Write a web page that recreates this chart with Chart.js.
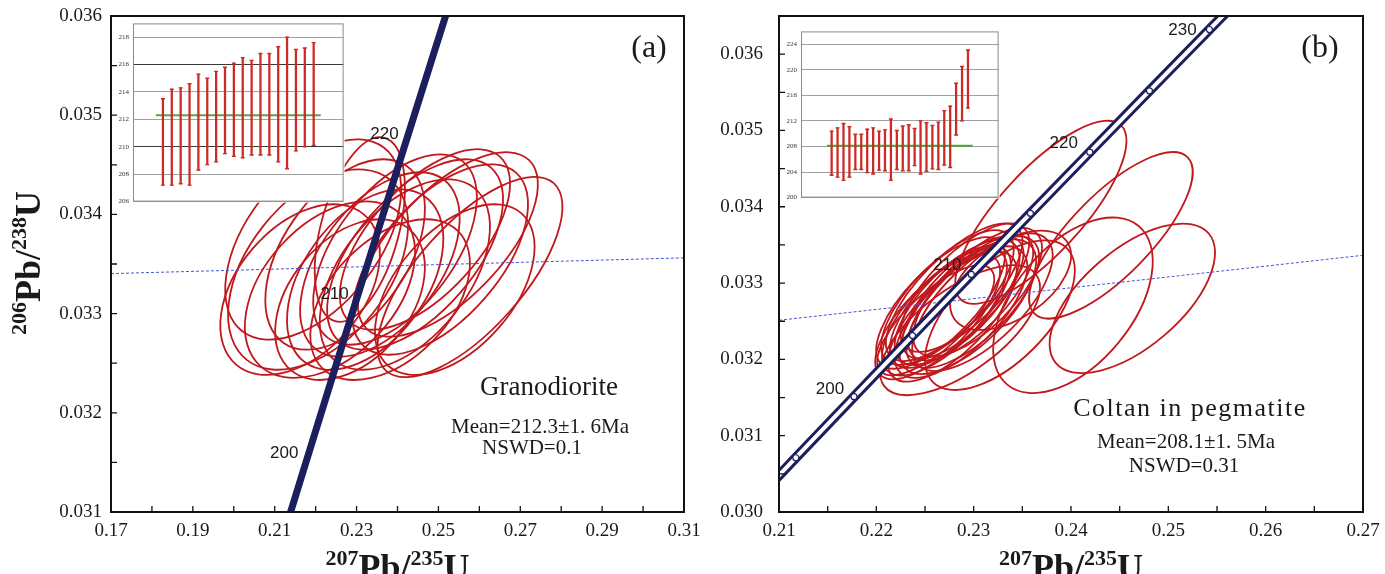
<!DOCTYPE html>
<html>
<head>
<meta charset="utf-8">
<title>U-Pb concordia diagrams</title>
<script src="https://cdn.jsdelivr.net/npm/chart.js@4.4.1/dist/chart.umd.min.js"></script>
<style>
  html, body { margin: 0; padding: 0; background: #fff; }
  body { position: relative; width: 1385px; height: 574px; overflow: hidden; }
  .panel { position: absolute; }
</style>
</head>
<body>
<div class="panel" style="left:0;top:0;width:720px;height:574px"><canvas id="concA"></canvas></div>
<div class="panel" style="left:692px;top:0;width:693px;height:574px"><canvas id="concB"></canvas></div>
<div class="panel" style="left:113px;top:18px;width:236px;height:189px"><canvas id="insetA"></canvas></div>
<div class="panel" style="left:782px;top:26px;width:222px;height:177px"><canvas id="insetB"></canvas></div>
<script>
// concordia reference points (age in Ma)
const concordiaAge = [190, 195, 200, 205, 210, 215, 220, 225, 230, 235];
const concordiaX = [0.205774, 0.211726, 0.217708, 0.223718, 0.229759, 0.235830, 0.241930, 0.248061, 0.254222, 0.260413];
const concordiaY = [0.029912, 0.030711, 0.031511, 0.032312, 0.033113, 0.033914, 0.034716, 0.035519, 0.036323, 0.037127];

// thin blue dashed lines
const granoDashX = [0.17, 0.31];
const granoDashY = [0.033403, 0.033562];
const coltanDashX = [0.21, 0.27];
const coltanDashY = [0.032513, 0.033364];

// error ellipses: [207Pb/235U, 206Pb/238U, half width x, half height y, rho]
const granoEllipses = [
  [0.2194, 0.033747, 0.0215, 0.00101, 0.50],
  [0.2206, 0.033444, 0.0220, 0.00101, 0.45],
  [0.2235, 0.033242, 0.0208, 0.00089, 0.42],
  [0.2272, 0.033596, 0.0195, 0.00096, 0.48],
  [0.2308, 0.033848, 0.0110, 0.00093, 0.45],
  [0.2321, 0.033343, 0.0191, 0.00091, 0.45],
  [0.2357, 0.033495, 0.0195, 0.00093, 0.50],
  [0.2394, 0.033646, 0.0200, 0.00096, 0.55],
  [0.2418, 0.033394, 0.0208, 0.00096, 0.50],
  [0.2443, 0.033596, 0.0215, 0.00096, 0.58],
  [0.2467, 0.033747, 0.0208, 0.00091, 0.62],
  [0.2504, 0.033545, 0.0215, 0.00096, 0.58],
  [0.2523, 0.033697, 0.0220, 0.00093, 0.65],
  [0.2577, 0.033369, 0.0226, 0.00101, 0.70],
  [0.2540, 0.033242, 0.0195, 0.00086, 0.50],
  [0.2284, 0.033141, 0.0183, 0.00081, 0.40],
  [0.2162, 0.033242, 0.0195, 0.00086, 0.42],
  [0.2382, 0.033141, 0.0195, 0.00081, 0.45]
];
const coltanEllipses = [
  [0.2266, 0.032740, 0.0066, 0.00086, 0.72],
  [0.2270, 0.032620, 0.0064, 0.00083, 0.70],
  [0.2273, 0.032810, 0.0068, 0.00088, 0.72],
  [0.2276, 0.032690, 0.0062, 0.00080, 0.69],
  [0.2278, 0.032560, 0.0066, 0.00085, 0.71],
  [0.2280, 0.032880, 0.0070, 0.00090, 0.74],
  [0.2283, 0.032750, 0.0064, 0.00082, 0.70],
  [0.2287, 0.032620, 0.0068, 0.00086, 0.69],
  [0.2289, 0.032810, 0.0062, 0.00080, 0.72],
  [0.2291, 0.032940, 0.0066, 0.00084, 0.71],
  [0.2294, 0.032690, 0.0070, 0.00088, 0.68],
  [0.2297, 0.032810, 0.0064, 0.00082, 0.72],
  [0.2299, 0.032750, 0.0068, 0.00086, 0.70],
  [0.2304, 0.032880, 0.0066, 0.00084, 0.69],
  [0.2309, 0.032750, 0.0072, 0.00090, 0.68],
  [0.2263, 0.032560, 0.0064, 0.00082, 0.72],
  [0.2369, 0.033927, 0.0088, 0.00120, 0.78],
  [0.2441, 0.033626, 0.0084, 0.00109, 0.76],
  [0.2463, 0.032800, 0.0085, 0.00098, 0.61],
  [0.2402, 0.032709, 0.0082, 0.00115, 0.50],
  [0.2327, 0.032579, 0.0077, 0.00098, 0.60],
  [0.2338, 0.033037, 0.0062, 0.00065, 0.50],
  [0.2286, 0.032382, 0.0082, 0.00085, 0.66],
  [0.2261, 0.032513, 0.0060, 0.00072, 0.75]
];

// inset weighted-mean plots (Ma)
const granoAgeLow = [207.2, 207.2, 207.3, 207.2, 208.3, 208.7, 208.9, 209.5, 209.3, 209.2, 209.4, 209.4, 209.4, 208.9, 208.4, 209.7, 210.0, 210.1];
const granoAgeHigh = [213.5, 214.2, 214.3, 214.6, 215.3, 215.0, 215.5, 215.8, 216.1, 216.5, 216.3, 216.8, 216.8, 217.3, 218.0, 217.1, 217.2, 217.6];
const granoMean = 212.3;
const coltanAgeLow = [203.5, 203.2, 202.7, 203.2, 204.4, 204.4, 203.9, 203.7, 204.3, 204.2, 202.7, 204.4, 204.2, 204.2, 205.0, 203.7, 204.1, 204.5, 204.4, 205.1, 204.7, 209.8, 212.0, 214.0];
const coltanAgeHigh = [210.4, 210.9, 211.6, 211.1, 209.9, 209.9, 210.7, 210.9, 210.4, 210.6, 212.3, 210.5, 211.2, 211.4, 210.8, 212.0, 211.7, 211.3, 211.8, 213.6, 214.3, 217.9, 220.5, 223.1];
const coltanMean = 208.1;

const SERIF = '"Liberation Serif", "Times New Roman", serif';
const SANS = '"Liberation Sans", Arial, sans-serif';
const NAVY = '#1c1f5e';
const RED = '#c1181d';

function zeroPad(s) { s.paddingTop = 0; s.paddingBottom = 0; s.paddingLeft = 0; s.paddingRight = 0; }

const ellipsePlugin = {
  id: 'ellipses',
  beforeDatasetsDraw(chart, args, opts) {
    const { ctx, chartArea: ca, scales: { x, y } } = chart;
    ctx.save();
    ctx.beginPath();
    ctx.rect(ca.left, ca.top, ca.width, ca.height);
    ctx.clip();
    ctx.strokeStyle = RED;
    ctx.lineWidth = 1.8;
    for (const [mx, my, sx, sy, rho] of opts.rows) {
      const cx = x.getPixelForValue(mx), cy = y.getPixelForValue(my);
      const a = x.getPixelForValue(mx + sx) - cx;
      const b = cy - y.getPixelForValue(my + sy);
      const c = -rho * a * b;
      const mid = (a * a + b * b) / 2;
      const d = Math.sqrt(Math.pow((a * a - b * b) / 2, 2) + c * c);
      const r1 = Math.sqrt(mid + d), r2 = Math.sqrt(Math.max(mid - d, 0.5));
      const th = 0.5 * Math.atan2(2 * c, a * a - b * b);
      ctx.beginPath();
      ctx.ellipse(cx, cy, r1, r2, th, 0, Math.PI * 2);
      ctx.stroke();
    }
    ctx.restore();
  }
};

function drawRatio(ctx, parts, cx, baseY) {
  const big = 'bold 36px ' + SERIF, small = 'bold 22px ' + SERIF;
  const widths = parts.map(([t, sup]) => { ctx.font = sup ? small : big; return ctx.measureText(t).width; });
  let x = cx - widths.reduce((s, w) => s + w, 0) / 2;
  parts.forEach(([t, sup], i) => {
    ctx.font = sup ? small : big;
    ctx.fillText(t, x, sup ? baseY - 14 : baseY);
    x += widths[i];
  });
}

const framePlugin = {
  id: 'frame',
  afterDraw(chart, args, opts) {
    const { ctx, chartArea: ca, scales: { x, y } } = chart;
    ctx.save();
    ctx.strokeStyle = '#111';
    ctx.lineWidth = 1.3;
    ctx.beginPath();
    x.ticks.forEach(t => { const px = x.getPixelForValue(t.value); ctx.moveTo(px, ca.bottom); ctx.lineTo(px, ca.bottom - 6); });
    y.ticks.forEach(t => { const py = y.getPixelForValue(t.value); ctx.moveTo(ca.left, py); ctx.lineTo(ca.left + 6, py); });
    ctx.stroke();
    ctx.lineWidth = 2;
    ctx.strokeRect(ca.left, ca.top, ca.width, ca.height);

    // texts
    ctx.fillStyle = '#1a1a1a';
    ctx.textAlign = 'left';
    ctx.textBaseline = 'alphabetic';
    drawRatio(ctx, [['207', true], ['Pb/', false], ['235', true], ['U', false]], (ca.left + ca.right) / 2, 579);
    if (opts.yTitle) {
      ctx.save();
      ctx.translate(opts.yTitle.x, opts.yTitle.y);
      ctx.rotate(-Math.PI / 2);
      drawRatio(ctx, [['206', true], ['Pb/', false], ['238', true], ['U', false]], 0, 0);
      ctx.restore();
    }
    ctx.textAlign = 'center';
    for (const n of opts.texts) {
      ctx.font = n.font;
      ctx.letterSpacing = n.spacing || '0px';
      ctx.fillText(n.text, ca.left + n.dx, ca.top + n.dy);
    }
    ctx.letterSpacing = '0px';
    ctx.font = '17px ' + SANS;
    ctx.textBaseline = 'middle';
    for (const l of opts.ageLabels) {
      const i = concordiaAge.indexOf(l.age);
      ctx.fillText(String(l.age), x.getPixelForValue(concordiaX[i]) + l.dx, y.getPixelForValue(concordiaY[i]) + l.dy);
    }
    ctx.restore();
  }
};

const concordiaPts = concordiaX.map((v, i) => ({ x: v, y: concordiaY[i] }));
const tickFont = { family: SERIF, size: 19 };
const yLabel = v => Math.round(v * 10000) % 10 === 0 ? v.toFixed(3) : '';

function concordiaChart(id, cfg) {
  return new Chart(document.getElementById(id), {
    type: 'scatter',
    data: { datasets: cfg.datasets },
    options: {
      responsive: true,
      maintainAspectRatio: false,
      animation: false,
      events: [],
      layout: { padding: cfg.padding },
      plugins: {
        legend: { display: false },
        tooltip: { enabled: false },
        ellipses: { rows: cfg.ellipses },
        frame: cfg.frame
      },
      scales: {
        x: {
          type: 'linear', min: cfg.xMin, max: cfg.xMax,
          afterFit: s => { s.height = 62; zeroPad(s); },
          grid: { display: false, drawTicks: false },
          border: { display: false },
          ticks: { stepSize: cfg.xStep, autoSkip: false, maxRotation: 0, includeBounds: false,
                   padding: 8, color: '#1a1a1a', font: tickFont, callback: cfg.xLabel }
        },
        y: {
          type: 'linear', min: cfg.yMin, max: cfg.yMax,
          afterFit: s => { s.width = cfg.yWidth; zeroPad(s); },
          grid: { display: false, drawTicks: false },
          border: { display: false },
          ticks: { stepSize: 0.0005, autoSkip: false, includeBounds: false,
                   padding: cfg.yPad, color: '#1a1a1a', font: tickFont, callback: yLabel }
        }
      }
    },
    plugins: [ellipsePlugin, framePlugin]
  });
}

// datasets are painted last-to-first, so the first entry ends up on top
concordiaChart('concA', {
  xMin: 0.17, xMax: 0.31, xStep: 0.01, yMin: 0.031, yMax: 0.036,
  xLabel: v => Math.round(v * 100) % 2 === 1 ? v.toFixed(2) : '',
  yWidth: 111, yPad: 9,
  padding: { top: 16, right: 36, bottom: 0, left: 0 },
  ellipses: granoEllipses,
  datasets: [
    { data: concordiaPts, showLine: true, pointRadius: 0, borderColor: NAVY, borderWidth: 7 },
    { data: granoDashX.map((v, i) => ({ x: v, y: granoDashY[i] })), showLine: true, pointRadius: 0,
      borderColor: '#4457d6', borderWidth: 1, borderDash: [3, 2] }
  ],
  frame: {
    yTitle: { x: 40, y: 263 },
    texts: [
      { text: '(a)', font: '32px ' + SERIF, dx: 538, dy: 41 },
      { text: 'Granodiorite', font: '27px ' + SERIF, dx: 438, dy: 379 },
      { text: 'Mean=212.3±1. 6Ma', font: '21px ' + SERIF, dx: 429, dy: 417 },
      { text: 'NSWD=0.1', font: '21px ' + SERIF, dx: 421, dy: 438 }
    ],
    ageLabels: [ { age: 200, dx: -22, dy: -8 }, { age: 210, dx: -21, dy: -8 }, { age: 220, dx: -21, dy: -9 } ]
  }
});

concordiaChart('concB', {
  xMin: 0.21, xMax: 0.27, xStep: 0.005, yMin: 0.030, yMax: 0.0365,
  xLabel: v => Math.round(v * 1000) % 10 === 0 ? v.toFixed(2) : '',
  yWidth: 87, yPad: 16,
  padding: { top: 16, right: 22, bottom: 0, left: 0 },
  ellipses: coltanEllipses,
  datasets: [
    { data: concordiaPts, showLine: true, borderColor: '#fff', borderWidth: 4,
      pointRadius: 3, pointBackgroundColor: '#fff', pointBorderColor: NAVY, pointBorderWidth: 1.2 },
    { data: concordiaPts, showLine: true, pointRadius: 0, borderColor: NAVY, borderWidth: 10 },
    { data: coltanDashX.map((v, i) => ({ x: v, y: coltanDashY[i] })), showLine: true, pointRadius: 0,
      borderColor: '#4457d6', borderWidth: 1, borderDash: [3, 2] }
  ],
  frame: {
    texts: [
      { text: '(b)', font: '32px ' + SERIF, dx: 541, dy: 41 },
      { text: 'Coltan in pegmatite', font: '26px ' + SERIF, dx: 411, dy: 400, spacing: '1.5px' },
      { text: 'Mean=208.1±1. 5Ma', font: '21px ' + SERIF, dx: 407, dy: 432 },
      { text: 'NSWD=0.31', font: '21px ' + SERIF, dx: 405, dy: 456 }
    ],
    ageLabels: [ { age: 200, dx: -24, dy: -7 }, { age: 210, dx: -24, dy: -9 }, { age: 220, dx: -26, dy: -9 }, { age: 230, dx: -27, dy: 1 } ]
  }
});

const insetPlugin = {
  id: 'insetFrame',
  beforeDraw(chart) {
    const { ctx, chartArea: ca } = chart;
    ctx.save();
    ctx.fillStyle = '#fff';
    ctx.fillRect(ca.left - 16, 0, ca.width + 17, ca.bottom + 1);
    ctx.restore();
  },
  afterDraw(chart) {
    const { ctx, chartArea: ca } = chart;
    ctx.save();
    ctx.strokeStyle = '#8a8a8a';
    ctx.lineWidth = 1;
    ctx.strokeRect(ca.left + 0.5, ca.top + 0.5, ca.width - 1, ca.height - 1);
    ctx.restore();
  }
};

function insetChart(id, low, high, mean, yMin, yMax, yStep, yWidth, darkLines) {
  const n = low.length;
  const bars = low.map((lo, i) => ({ x: i + 1, y: [lo, high[i]] }));
  const caps = low.map((lo, i) => ({ x: i + 1, y: lo })).concat(high.map((hi, i) => ({ x: i + 1, y: hi })));
  return new Chart(document.getElementById(id), {
    type: 'bar',
    data: {
      datasets: [
        { type: 'scatter', data: caps, pointStyle: 'line', pointRadius: 2, borderColor: '#cc2a24', borderWidth: 1.4, order: 0 },
        { type: 'bar', data: bars, backgroundColor: '#cc2a24', barThickness: 1.6, order: 1 },
        { type: 'line', data: [{ x: 0.2, y: mean }, { x: n + 0.8, y: mean }], borderColor: '#58a24a',
          borderWidth: 2.2, pointRadius: 0, order: 2 }
      ]
    },
    options: {
      responsive: true,
      maintainAspectRatio: false,
      animation: false,
      events: [],
      layout: { padding: { top: 1, right: 1, bottom: 5, left: 0 } },
      plugins: { legend: { display: false }, tooltip: { enabled: false } },
      scales: {
        x: { type: 'linear', min: 0, max: n + 1, display: false },
        y: {
          min: yMin, max: yMax,
          afterFit: s => { s.width = yWidth; zeroPad(s); },
          border: { display: false },
          grid: { drawTicks: false, lineWidth: 1,
                  color: c => darkLines.includes(c.tick && c.tick.value) ? '#3a3a3a' : '#a0a0a0' },
          ticks: { stepSize: yStep, includeBounds: false, padding: 4, color: '#333',
                   font: { family: SERIF, size: 7 } }
        }
      }
    },
    plugins: [insetPlugin]
  });
}

insetChart('insetA', granoAgeLow, granoAgeHigh, granoMean, 206, 219, 2, 20, [210, 216]);
insetChart('insetB', coltanAgeLow, coltanAgeHigh, coltanMean, 200, 226, 4, 19, []);
</script>
</body>
</html>
